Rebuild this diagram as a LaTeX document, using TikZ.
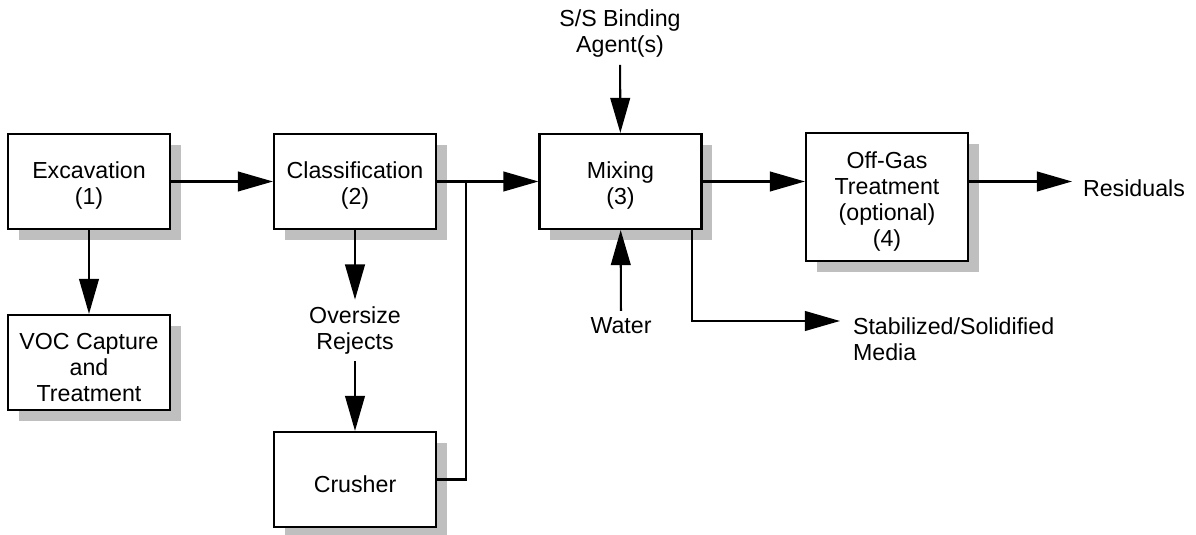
\documentclass[tikz,border=0pt]{standalone}
\usepackage{fontspec}
\setmainfont{Liberation Sans}
\usetikzlibrary{positioning, arrows.meta, shadows}
\newcommand{\topstrut}{\rule{0pt}{18pt}}

\begin{document}
\begin{tikzpicture}[
  font=\fontsize{16.5}{18.5}\selectfont,
  line width=1.5pt,
  >={Triangle[length=25pt,width=14pt]},
  stage/.style={draw, fill=white, align=center, inner sep=0pt,
    minimum width=4.05cm, minimum height=2.375cm,
    drop shadow={shadow xshift=0.27cm, shadow yshift=-0.27cm, fill=black!25, opacity=1}},
  stream/.style={align=center, inner sep=0.15cm}
]
  \useasboundingbox (0,0) rectangle (29.9,-13.375);

  % Etapas del proceso
  \node[stage] (exc) at (2.225,-4.5375) {\topstrut Excavation\\(1)};
  \node[stage] (voc) at (2.225,-9.0625) {\topstrut VOC Capture\\and\\Treatment};
  \node[stage] (cls) at (8.875,-4.5375) {\topstrut Classification\\(2)};
  \node[stage] (crush) at (8.875,-11.9875) {\topstrut Crusher};
  \node[stage] (mix) at (15.5125,-4.5375) {\topstrut Mixing\\(3)};
  \node[stage, minimum height=3.2cm] (offgas) at (22.175,-4.925) {\topstrut Off-Gas\\Treatment\\(optional)\\(4)};

  % Entradas y salidas
  \node[stream] (binder) at (15.5,-0.85) {S/S Binding\\Agent(s)};
  \node[stream] (water) at (15.525,-8.15) {Water};
  \node[stream] (oversize) at (8.875,-8.2625) {Oversize\\Rejects};
  \node[stream, anchor=west, inner sep=0pt] (resid) at (27.05,-4.7) {Residuals};
  \node[stream, anchor=west, inner sep=0pt, align=left] (stab) at (21.3,-8.49) {Stabilized/Solidified\\Media};

  \coordinate (junc) at (11.65,-4.5375);
  \coordinate (mixout) at (17.3,-5.725);
  \coordinate (bend) at (17.3,-8.025);

  % Flujos
  \draw[->] (exc) -- (cls);
  \draw[->] (exc) -- (voc);
  \draw[->] (cls) -- (oversize);
  \draw[->] (oversize) -- (crush);
  \draw[->] (cls) -- (mix);
  \draw (crush.east) -| (junc);
  \draw[->] (binder) -- (mix);
  \draw[->] (water) -- (mix);
  \draw[->] (mix.east) -- (mix.east -| offgas.west);
  \draw[->] (offgas.east |- mix.east) -- ([xshift=-0.25cm]resid.west |- mix.east);
  \draw[->] (mixout) -- (bend) -- ([xshift=-0.3cm]stab.west |- bend);

\end{tikzpicture}
\end{document}
